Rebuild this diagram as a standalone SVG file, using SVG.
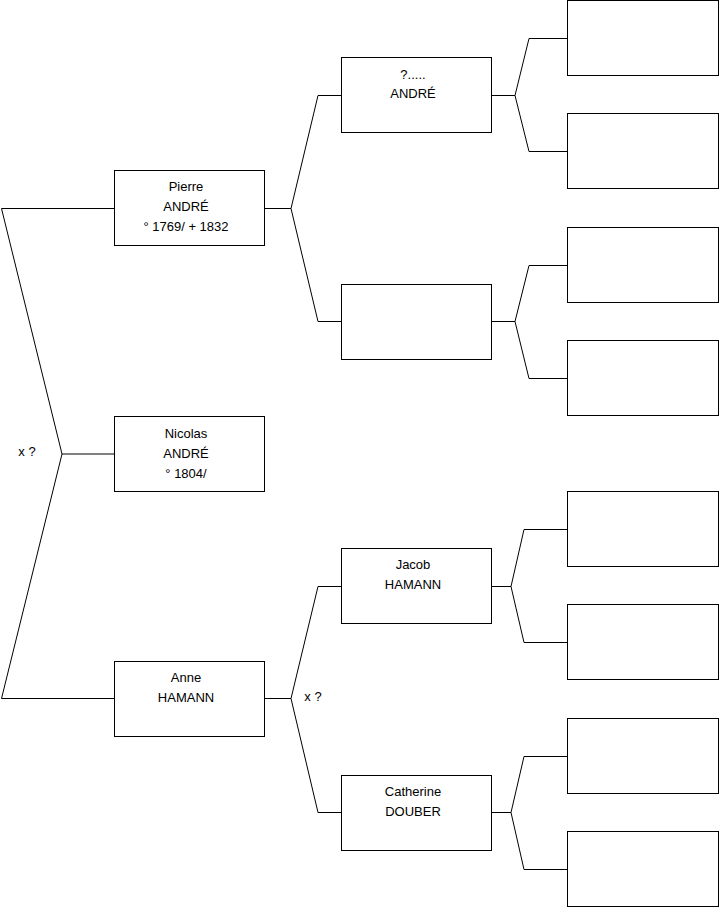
<svg xmlns="http://www.w3.org/2000/svg" width="719" height="908" viewBox="0 0 719 908">
<style>
rect{fill:#fff;stroke:#000;stroke-width:1}
.c{fill:none;stroke:#000;stroke-width:1}
text{font-family:"Liberation Sans",Arial,sans-serif;font-size:13px;fill:#000;text-anchor:middle}
</style>
<rect x="0" y="0" width="719" height="908" style="stroke:none"/>
<g id="connectors">
<polyline class="c" points="114,208.5 1.5,208.5 62,454 1.5,698.5 114,698.5"/>
<line class="c" x1="62" y1="454" x2="114" y2="454"/>
<polyline class="c" points="341,95.5 318,95.5 291,208.5 318,321.5 341,321.5"/>
<line class="c" x1="265" y1="208.5" x2="291" y2="208.5"/>
<polyline class="c" points="341,586.5 318,586.5 291,698.5 318,812.5 341,812.5"/>
<line class="c" x1="265" y1="698.5" x2="291" y2="698.5"/>
<polyline class="c" points="567,38.5 529,38.5 515,95.5 529,151.5 567,151.5"/>
<line class="c" x1="492" y1="95.5" x2="515" y2="95.5"/>
<polyline class="c" points="567,265.5 529,265.5 515,321.5 529,378.5 567,378.5"/>
<line class="c" x1="492" y1="321.5" x2="515" y2="321.5"/>
<polyline class="c" points="567,529.5 524,529.5 511,586.5 524,642.5 567,642.5"/>
<line class="c" x1="492" y1="586.5" x2="511" y2="586.5"/>
<polyline class="c" points="567,756.5 524,756.5 511,812.5 524,869.5 567,869.5"/>
<line class="c" x1="492" y1="812.5" x2="511" y2="812.5"/>
<text x="27" y="456">x ?</text>
<text x="313" y="701">x ?</text>
</g>
<g id="pierre"><rect x="114.5" y="170.5" width="150" height="75"/>
<text x="186" y="191">Pierre</text><text x="186" y="211">ANDRÉ</text><text x="186" y="231">° 1769/ + 1832</text></g>
<g id="nicolas"><rect x="114.5" y="416.5" width="150" height="75"/>
<text x="186" y="438">Nicolas</text><text x="186" y="458">ANDRÉ</text><text x="186" y="478">° 1804/</text></g>
<g id="anne"><rect x="114.5" y="661.5" width="150" height="75"/>
<text x="186" y="682">Anne</text><text x="186" y="702">HAMANN</text></g>
<g id="andre2"><rect x="341.5" y="57.5" width="150" height="75"/>
<text x="413" y="79">?.....</text><text x="413" y="98">ANDRÉ</text></g>
<g id="unknown1"><rect x="341.5" y="284.5" width="150" height="75"/></g>
<g id="jacob"><rect x="341.5" y="548.5" width="150" height="75"/>
<text x="413" y="569">Jacob</text><text x="413" y="589">HAMANN</text></g>
<g id="catherine"><rect x="341.5" y="775.5" width="150" height="75"/>
<text x="413" y="796">Catherine</text><text x="413" y="816">DOUBER</text></g>
<g id="g1"><rect x="567.5" y="0.5" width="151" height="75"/></g>
<g id="g2"><rect x="567.5" y="113.5" width="151" height="75"/></g>
<g id="g3"><rect x="567.5" y="227.5" width="151" height="75"/></g>
<g id="g4"><rect x="567.5" y="340.5" width="151" height="75"/></g>
<g id="g5"><rect x="567.5" y="491.5" width="151" height="75"/></g>
<g id="g6"><rect x="567.5" y="604.5" width="151" height="75"/></g>
<g id="g7"><rect x="567.5" y="718.5" width="151" height="75"/></g>
<g id="g8"><rect x="567.5" y="831.5" width="151" height="75"/></g>
</svg>
